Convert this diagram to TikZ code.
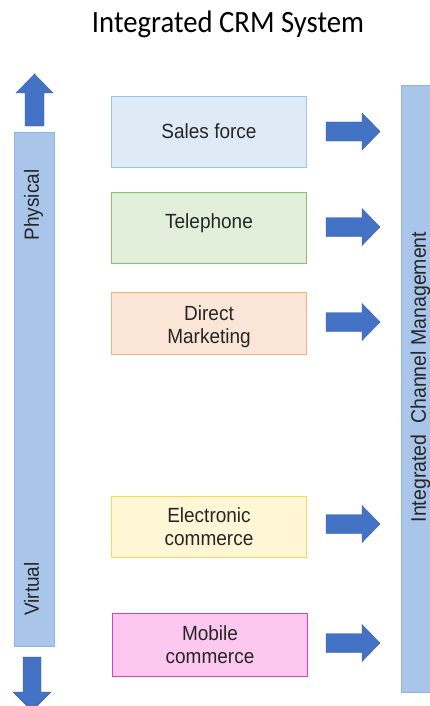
\documentclass[tikz,border=0pt]{standalone}
\usepackage{fontspec}
\usepackage{graphicx}
\setmainfont{Liberation Sans}
\newfontfamily\titlefont{Carlito}
\newcommand{\vstr}[2][0pt]{\raisebox{#1}[\height][\depth]{\scalebox{1}[1.08]{\begin{tabular}{@{}c@{}}#2\end{tabular}}}}
\definecolor{barfill}{HTML}{A9C5EA}
\definecolor{barline}{HTML}{8DB4E2}
\definecolor{arrowblue}{HTML}{4472C4}
\definecolor{sfFill}{HTML}{DEEAF6}\definecolor{sfLine}{HTML}{9DC3E6}
\definecolor{tlFill}{HTML}{E2EFDA}\definecolor{tlLine}{HTML}{8CC16A}
\definecolor{dmFill}{HTML}{FBE5D6}\definecolor{dmLine}{HTML}{F4B183}
\definecolor{ecFill}{HTML}{FFF6D5}\definecolor{ecLine}{HTML}{FFD55A}
\definecolor{mcFill}{HTML}{FCC8F0}\definecolor{mcLine}{HTML}{E040C0}
\tikzset{
  chan/.style={draw, line width=1pt, minimum width=195pt, align=center,
    font=\fontsize{19}{21.3}\selectfont, text=black!85, inner sep=0pt},
  bar/.style={draw=barline, fill=barfill, line width=1pt, inner sep=0pt},
  blockarrow/.style={fill=arrowblue, draw=arrowblue!85!black, line width=0.4pt, line join=miter},
  vlabel/.style={rotate=90, font=\fontsize{19}{22}\selectfont, text=black!85},
}
\begin{document}
\begin{tikzpicture}[x=1pt,y=-1pt]
\useasboundingbox (0,0) rectangle (429,706);
\fill[white] (0,0) rectangle (429,706);
\node[font=\titlefont\fontsize{28.7}{32}\selectfont, inner sep=0pt, anchor=base] (title) at (228,33) {\scalebox{1}[1.08]{Integrated CRM System}};
% left bar
\node[bar, minimum width=40pt, minimum height=514pt, anchor=north west] (lbar) at (14,132) {};
\node[vlabel] (phys) at (34,205) {\vstr{Physical}};
\node[vlabel] (virt) at (34,589) {\vstr{Virtual}};
% vertical arrows
\draw[blockarrow] (25,126) -- (25,93) -- (16,93) -- (34.5,74) -- (53,93) -- (44,93) -- (44,126) -- cycle;
\draw[blockarrow] (23,657) -- (23,692) -- (13,692) -- (32,711) -- (51,692) -- (41,692) -- (41,657) -- cycle;
% right bar
\node[bar, minimum width=40pt, minimum height=607pt, anchor=north west] (rbar) at (401,85) {};
\node[vlabel] (icm) at (421,377) {\vstr{\fontsize{19.5}{22}\selectfont Integrated\ \ Channel Management}};
% channel boxes
\node[chan, draw=sfLine, fill=sfFill, minimum height=71pt, anchor=north west] (sf) at (111,96) {\vstr[-1.5pt]{Sales force}};
\node[chan, draw=tlLine, fill=tlFill, minimum height=71pt, anchor=north west] (tl) at (111,192) {\vstr[4pt]{Telephone}};
\node[chan, draw=dmLine, fill=dmFill, minimum height=62pt, anchor=north west] (dm) at (111,292) {\vstr[-3.5pt]{Direct\\Marketing}};
\node[chan, draw=ecLine, fill=ecFill, minimum height=61pt, anchor=north west] (ec) at (111,496) {\vstr[-2pt]{Electronic\\commerce}};
\node[chan, draw=mcLine, fill=mcFill, minimum height=63pt, anchor=north west] (mc) at (112,613) {\vstr[-2pt]{Mobile\\commerce}};
% right arrows
\foreach \y in {131.5, 227, 322, 524, 643}{
  \draw[blockarrow] (326,\y-9.5) -- (362,\y-9.5) -- (362,\y-18.5) -- (380,\y) -- (362,\y+18.5) -- (362,\y+9.5) -- (326,\y+9.5) -- cycle;
}
\end{tikzpicture}
\end{document}
